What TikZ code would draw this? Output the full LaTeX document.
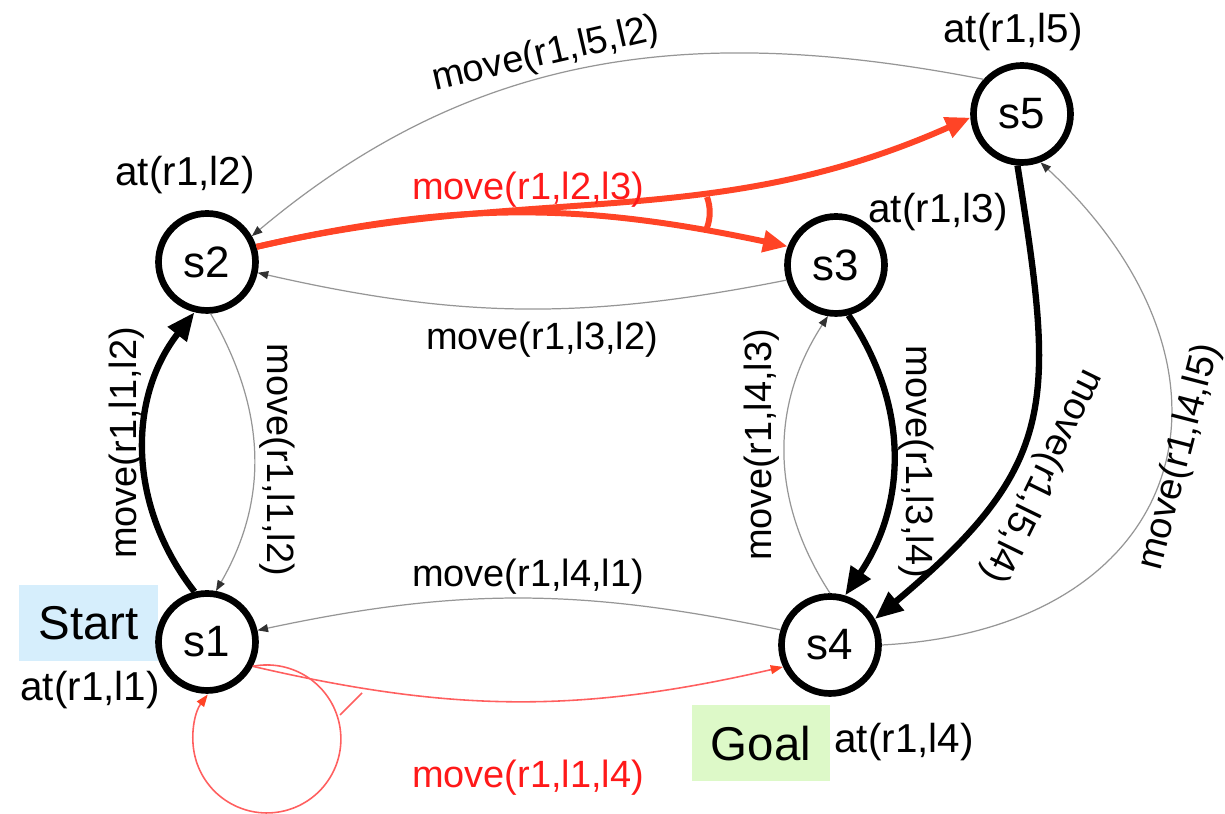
\documentclass[tikz,border=0pt]{standalone}
\usepackage{fontspec}
\setmainfont{Liberation Sans}
\usetikzlibrary{positioning, calc, arrows.meta}

\definecolor{planred}{RGB}{255,68,38}
\definecolor{labelred}{RGB}{255,25,25}
\definecolor{loopred}{RGB}{255,95,95}
\definecolor{edgegray}{RGB}{150,150,150}
\definecolor{tipgray}{RGB}{50,50,50}
\definecolor{startblue}{RGB}{214,238,252}
\definecolor{goalgreen}{RGB}{221,249,200}

\begin{document}
\begin{tikzpicture}
    [x=0.02cm, y=0.02cm,
    statenode/.style={circle, draw=black, fill=white, line width=3.8pt, minimum size=1.94cm, inner sep=0pt, font=\fontsize{25}{30}\selectfont},
    atlabel/.style={font=\fontsize{23}{28}\selectfont},
    movelabel/.style={font=\fontsize{21.6}{26}\selectfont},
    markbox/.style={minimum width=2.78cm, minimum height=1.52cm, inner sep=0pt, font=\fontsize{27}{32}\selectfont},
    thinedge/.style={draw=edgegray, line width=0.7pt, -{Triangle[length=6pt, width=4.5pt, color=tipgray]}},
    thickedge/.style={draw=black, line width=3.6pt, -{Triangle[length=16pt, width=13pt]}},
    planedge/.style={draw=planred, line width=3.4pt, -{Triangle[length=14pt, width=12pt]}},
    redthin/.style={draw=loopred, line width=0.9pt, -{Triangle[length=7pt, width=5pt, color=planred]}},]

    \useasboundingbox (0,0) rectangle (1225,814);

    %Boxes
    \node[markbox, fill=startblue](start) at (88.5,191) {Start};
    \node[markbox, fill=goalgreen](goal) at (761,70.5) {Goal};

    %Nodes
    \node[statenode](s1) at (207,172) {s1};
    \node[statenode](s2) at (207,552) {s2};
    \node[statenode](s3) at (836,549) {s3};
    \node[statenode](s4) at (830,169) {s4};
    \node[statenode](s5) at (1022,700) {s5};

    %Lines
    \draw[thickedge](s1.104) to[out=128, in=232] (s2.256);
    \draw[thinedge](s2.274) to[out=300, in=60] (s1.80);
    \draw[thinedge](s3.197) to[bend left=12] (s2.-12);
    \draw[thinedge](s5.138) to[out=169, in=40] (s2.30);
    \draw[planedge](s2.17) to[out=13, in=168] (s3.159);
    \draw[planedge](s2.17) to[out=13, in=204] (s5.184);
    \draw[planedge, -] (707,617) arc[start angle=20, end angle=-20, radius=45];

    \draw[thickedge](s3.284) to[out=304, in=56] (s4.73);
    \draw[thinedge](s4.90) to[out=123, in=237] (s3.261);
    \draw[thickedge](s5.265) to[out=279, in=40, looseness=1.3] (s4.30);
    \draw[thinedge](s4.0) to[out=3, in=-43, looseness=1.55] (s5.-69);

    \draw[thinedge](s4.163) to[bend right=12] (s1.13);
    \draw[redthin](s1.-28) to[bend right=13] (s4.205);
    \draw[redthin](s1.-28) arc[start angle=101, end angle=-217, radius=74];
    \draw[draw=loopred, line width=0.9pt] (362,121) -- (340,99);

    %Labels
    \node[atlabel](at1) at (90,124) {at(r1,l1)};
    \node[atlabel](at2) at (185,639) {at(r1,l2)};
    \node[atlabel](at3) at (938,602) {at(r1,l3)};
    \node[atlabel](at4) at (904,72) {at(r1,l4)};
    \node[atlabel](at5) at (1013,782) {at(r1,l5)};

    \node[movelabel, rotate=90](m12) at (127,371) {move(r1,l1,l2)};
    \node[movelabel, rotate=-90](m21) at (277,354) {move(r1,l1,l2)};
    \node[movelabel](m32) at (542,474) {move(r1,l3,l2)};
    \node[movelabel, text=labelred](m23) at (528,624) {move(r1,l2,l3)};
    \node[movelabel, rotate=13](m52) at (546,759) {move(r1,l5,l2)};
    \node[movelabel](m41) at (528,237) {move(r1,l4,l1)};
    \node[movelabel, text=labelred](m14) at (528,36) {move(r1,l1,l4)};
    \node[movelabel, rotate=90](m43) at (762,369) {move(r1,l4,l3)};
    \node[movelabel, rotate=-90](m34) at (916,352) {move(r1,l3,l4)};
    \node[movelabel, rotate=244](m54) at (1042,338) {move(r1,l5,l4)};
    \node[movelabel, rotate=75.5](m45) at (1180,357) {move(r1,l4,l5)};

\end{tikzpicture}
\end{document}
